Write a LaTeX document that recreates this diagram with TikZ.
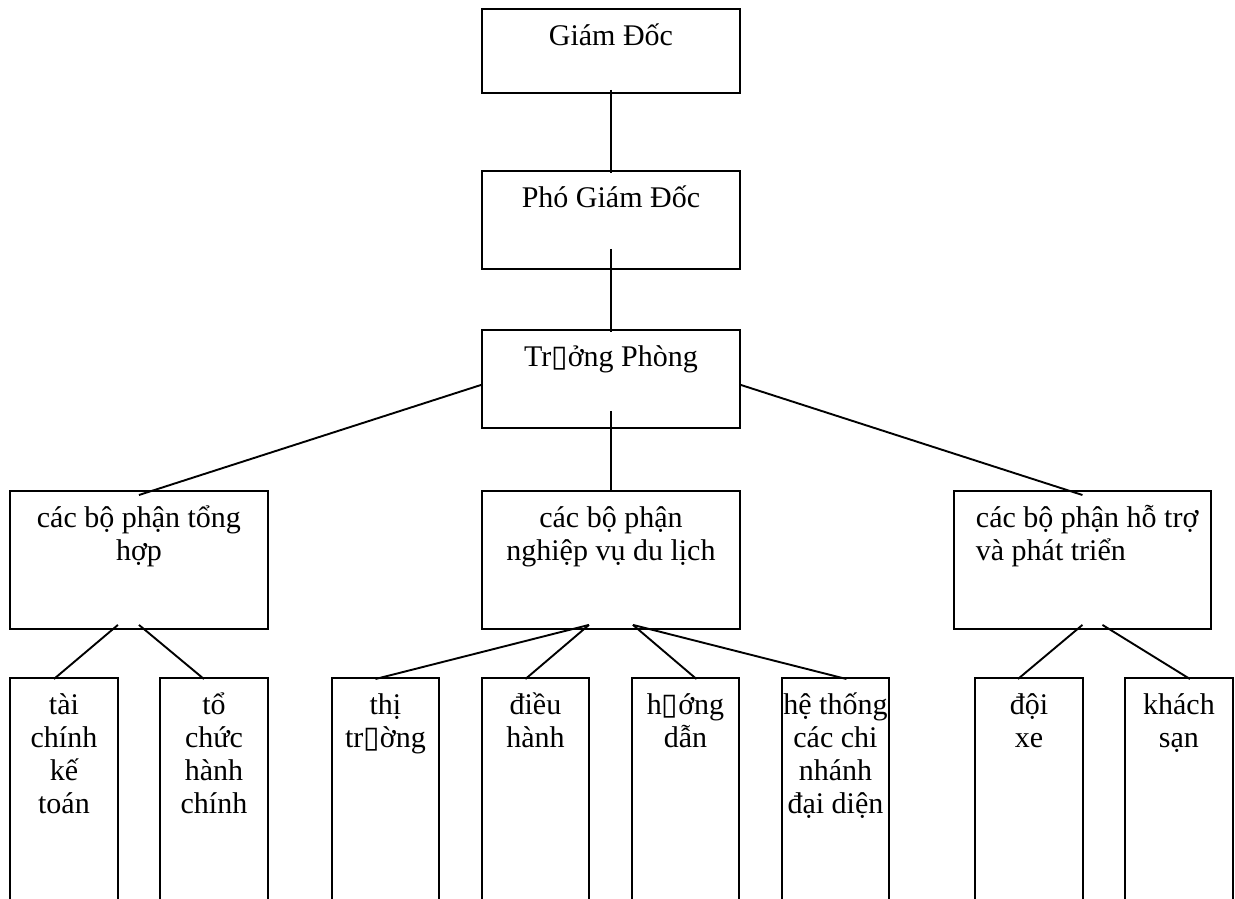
\documentclass[tikz,border=0pt]{standalone}
\usepackage{fontspec}
\setmainfont{Liberation Serif}
\newfontfamily\glyphfont{DejaVu Sans}
\usetikzlibrary{calc}

\newcommand{\nochar}{{\glyphfont\char"25AF}}
\newcommand{\orgbox}[4]{\parbox[t][#2][t]{#1}{#3\rule{0pt}{37pt}#4}}

\begin{document}
\begin{tikzpicture}[x=1pt, y=-1pt, line width=1.9pt,
    unit/.style={draw, inner sep=0pt, anchor=north west,
                 font=\fontsize{30}{32.7}\selectfont}]
    \useasboundingbox (0,0) rectangle (1235,898);
    \clip (0,0) rectangle (1235,898);

    \node[unit] (gd)  at (481,8)   {\orgbox{258pt}{84pt}{\centering}{Giám Đốc}};
    \node[unit] (pgd) at (481,170) {\orgbox{258pt}{98pt}{\centering}{Phó Giám Đốc}};
    \node[unit] (tp)  at (481,329) {\orgbox{258pt}{98pt}{\centering}{Tr\nochar ởng Phòng}};

    \node[unit] (l1) at (9,490)   {\orgbox{258pt}{138pt}{\centering}{các bộ phận tổng\\ hợp}};
    \node[unit] (l2) at (481,490) {\orgbox{258pt}{138pt}{\centering}{các bộ phận\\ nghiệp vụ du lịch}};
    \node[unit] (l3) at (953,490) {\orgbox{257pt}{138pt}{\raggedright\leftskip=22pt}{các bộ phận hỗ trợ\\ và phát triển}};

    \node[unit] (b1) at (9,677)    {\orgbox{108pt}{260pt}{\centering}{tài\\ chính\\ kế\\ toán}};
    \node[unit] (b2) at (159,677)  {\orgbox{108pt}{260pt}{\centering}{tổ\\ chức\\ hành\\ chính}};
    \node[unit] (b3) at (331,677)  {\orgbox{107pt}{260pt}{\centering}{thị\\ tr\nochar ờng}};
    \node[unit] (b4) at (481,677)  {\orgbox{107pt}{260pt}{\centering}{điều\\ hành}};
    \node[unit] (b5) at (631,677)  {\orgbox{107pt}{260pt}{\centering}{h\nochar ớng\\ dẫn}};
    \node[unit] (b6) at (781,677)  {\orgbox{107pt}{260pt}{\centering}{hệ thống\\ các chi\\ nhánh\\ đại diện}};
    \node[unit] (b7) at (974,677)  {\orgbox{108pt}{260pt}{\centering}{đội\\ xe}};
    \node[unit] (b8) at (1124,677) {\orgbox{108pt}{260pt}{\centering}{khách\\ sạn}};

    \draw[shorten <=-4pt, shorten >=-3pt] (gd.south) -- (pgd.north);
    \draw[shorten <=-21pt, shorten >=-3pt] (pgd.south) -- (tp.north);
    \draw[shorten <=-18pt, shorten >=-2pt] (tp.south) -- (l2.north);
    \draw ($(tp.west)+(0,6)$) -- ($(l1.north)+(0,5)$);
    \draw ($(tp.east)+(0,6)$) -- ($(l3.north)+(0,5)$);

    \draw ($(l1.south)+(-21,-5)$) -- ($(b1.north)+(-10,2)$);
    \draw ($(l1.south)+(0,-5)$)   -- ($(b2.north)+(-10,2)$);
    \draw ($(l2.south)+(-22,-5)$) -- ($(b3.north)+(-10,2)$);
    \draw ($(l2.south)+(-22,-5)$) -- ($(b4.north)+(-10,2)$);
    \draw ($(l2.south)+(22,-5)$)  -- ($(b5.north)+(11,2)$);
    \draw ($(l2.south)+(22,-5)$)  -- ($(b6.north)+(11,2)$);
    \draw ($(l3.south)+(0,-5)$)   -- ($(b7.north)+(-11,2)$);
    \draw ($(l3.south)+(20,-5)$)  -- ($(b8.north)+(11,2)$);
\end{tikzpicture}
\end{document}
